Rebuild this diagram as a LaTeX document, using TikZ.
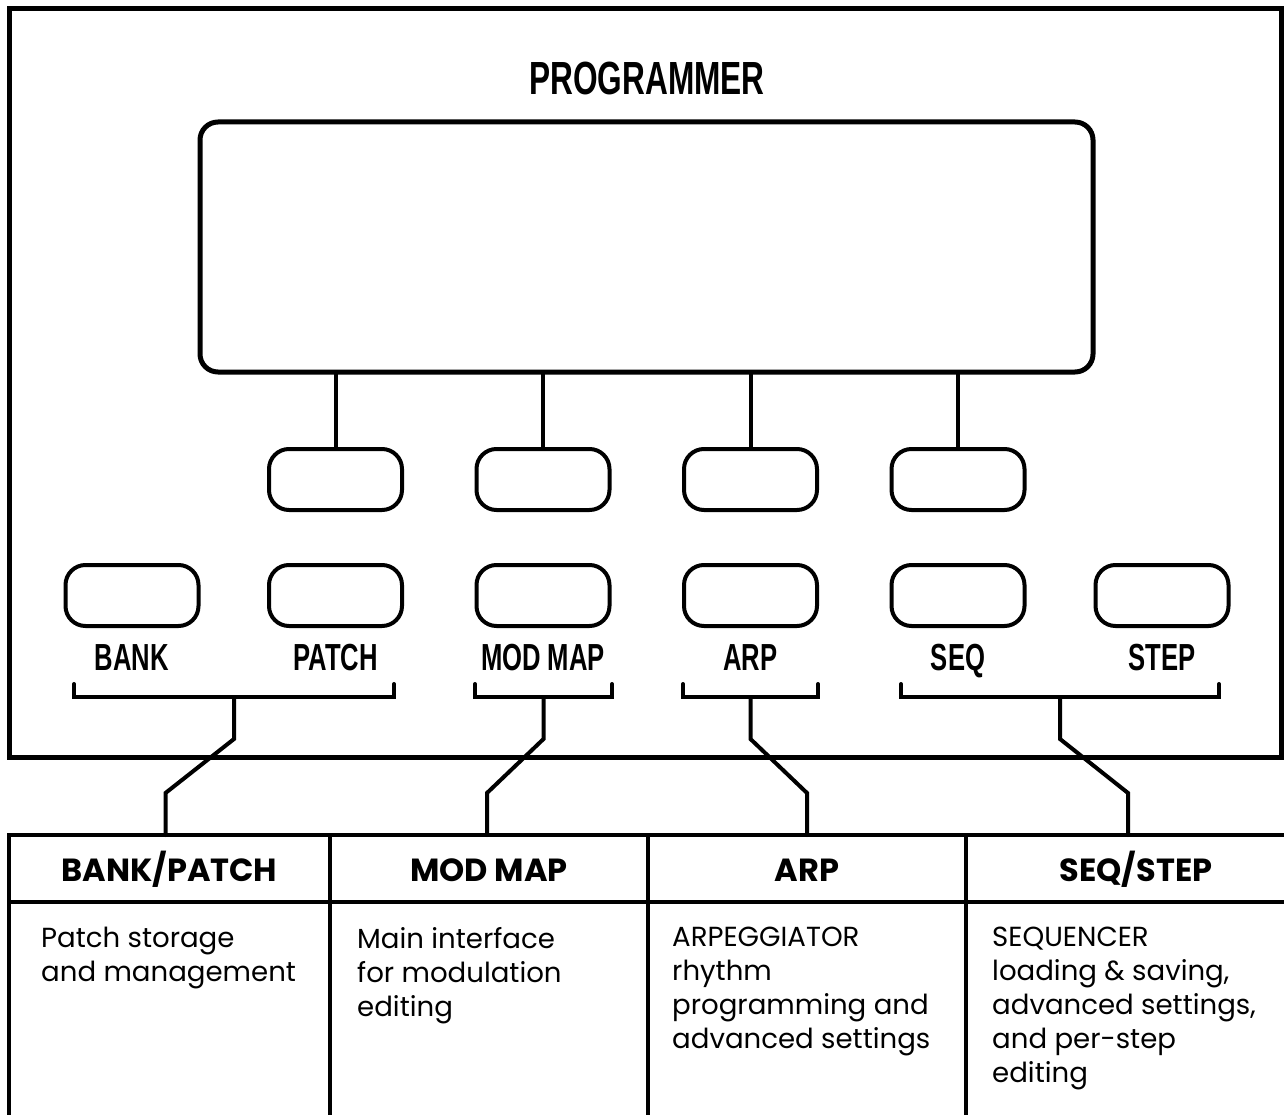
\documentclass[tikz,border=0pt]{standalone}
\usepackage{fontspec}
\setmainfont{Poppins}
\newfontfamily\panelfont[FakeStretch=0.68]{Liberation Sans}
\usetikzlibrary{
  positioning,
  calc
}

\begin{document}
\begin{tikzpicture}[
  x=1pt, y=1pt,
  frame/.style={
    line width=5pt
  },
  screen/.style={
    draw,
    line width=5pt,
    rounded corners=18pt,
    minimum width=893pt,
    minimum height=250pt,
    inner sep=0pt
  },
  btn/.style={
    draw,
    line width=4pt,
    rounded corners=20pt,
    minimum width=133pt,
    minimum height=61pt,
    inner sep=0pt
  },
  btnlabel/.style={
    anchor=base,
    inner sep=0pt,
    font=\panelfont\bfseries\fontsize{37.7}{40}\selectfont
  },
  paneltitle/.style={
    anchor=base,
    inner sep=0pt,
    font=\panelfont\bfseries\fontsize{46.5}{50}\selectfont
  },
  link/.style={
    line width=4pt,
    line cap=round
  },
  headcell/.style={
    draw,
    line width=4pt,
    minimum height=67pt,
    minimum width=318pt,
    inner sep=0pt,
    outer sep=0pt,
    text height=26pt,
    text depth=0pt,
    font=\bfseries\fontsize{32}{35}\selectfont
  },
  bodycell/.style={
    draw,
    line width=4pt,
    minimum height=240pt,
    minimum width=318pt,
    inner sep=0pt,
    outer sep=0pt
  },
  desc/.style={
    anchor=north west,
    align=left,
    inner sep=0pt,
    font=\fontsize{27.6}{34}\selectfont,
    execute at begin node=\strut
  }
]
\useasboundingbox (0,0) rectangle (1284,-1115);

% ------------------------------------------------------------------
% Panel frame, title and display
% ------------------------------------------------------------------
\draw[frame] (9,-8.5) rectangle (1281.5,-757);
\node[paneltitle] (title) at (647,-95) {PROGRAMMER};
\node[screen] (display) at (646.5,-247) {};

% ------------------------------------------------------------------
% Soft keys under the display
% ------------------------------------------------------------------
\foreach \px [count=\i] in {335.5,543,750.5,958} {
  \node[btn] (soft\i) at (\px,-479.5) {};
  \draw[link] (soft\i.north |- display.south) -- (soft\i.north);
}

% ------------------------------------------------------------------
% Mode keys + labels
% ------------------------------------------------------------------
\foreach \px/\nm/\txt in {132/bank/BANK, 335.5/patch/PATCH,
    543/modmap/MOD MAP, 750.5/arp/ARP, 958/seq/SEQ, 1162/stepkey/STEP} {
  \node[btn] (\nm) at (\px,-595.5) {};
  \node[btnlabel] (\nm-lbl) at (\px,-670) {\txt};
}

% brackets grouping the keys
\draw[link] (74,-684) |- (394,-697) -- (394,-684);
\draw[link] (475,-684) |- (612,-697) -- (612,-684);
\draw[link] (683,-684) |- (818,-697) -- (818,-684);
\draw[link] (901,-684) |- (1219,-697) -- (1219,-684);
\coordinate (brkA) at (234,-697);
\coordinate (brkB) at (543.5,-697);
\coordinate (brkC) at (750.5,-697);
\coordinate (brkD) at (1060,-697);

% ------------------------------------------------------------------
% Mode table
% ------------------------------------------------------------------
\node[headcell, minimum width=321pt] (hbank) at (169.5,-868.5) {BANK/PATCH};
\node[headcell, right=0pt of hbank] (hmod) {MOD MAP};
\node[headcell, right=0pt of hmod] (harp) {ARP};
\node[headcell, right=0pt of harp, minimum width=340pt] (hseq) {SEQ/STEP};

\node[bodycell, below=0pt of hbank, minimum width=321pt] (bbank) {};
\node[bodycell, below=0pt of hmod] (bmod) {};
\node[bodycell, below=0pt of harp] (barp) {};
\node[bodycell, below=0pt of hseq, minimum width=340pt] (bseq) {};

\node[desc] (dbank) at ($(bbank.north west)+(32,-25)$)
  {Patch storage\\and management};
\node[desc] (dmod) at ($(bmod.north west)+(27,-25)$)
  {Main interface\\for modulation\\editing};
\node[desc] (darp) at ($(barp.north west)+(24,-25)$)
  {ARPEGGIATOR\\rhythm\\programming and\\advanced settings};
\node[desc] (dseq) at ($(bseq.north west)+(26,-25)$)
  {SEQUENCER\\loading \& saving,\\advanced settings,\\and per-step\\editing};

% ------------------------------------------------------------------
% Keys -> table (kinked links)
% ------------------------------------------------------------------
\coordinate (kinkhi) at (0,-739);
\coordinate (kinklo) at (0,-793);
\draw[link] (brkA) -- (brkA |- kinkhi) -- ($(hbank.north |- kinklo)+(-4,0)$) -- ($(hbank.north)+(-4,0)$);
\draw[link] (brkB) -- (brkB |- kinkhi) -- ($(hmod.north |- kinklo)+(-2,0)$) -- ($(hmod.north)+(-2,0)$);
\draw[link] (brkC) -- (brkC |- kinkhi) -- (harp.north |- kinklo) -- (harp.north);
\draw[link] (brkD) -- (brkD |- kinkhi) -- ($(hseq.north |- kinklo)+(-8,0)$) -- ($(hseq.north)+(-8,0)$);

\end{tikzpicture}
\end{document}
